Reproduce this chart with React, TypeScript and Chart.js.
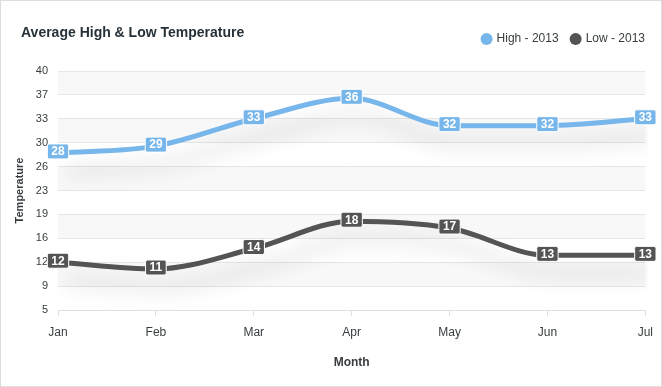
import React, { useEffect, useRef } from "react";
import { Chart, registerables } from "chart.js";

Chart.register(...registerables);

const months = ["Jan", "Feb", "Mar", "Apr", "May", "Jun", "Jul"];
const highTemps = [28, 29, 33, 36, 32, 32, 33];
const lowTemps = [12, 11, 14, 18, 17, 13, 13];
const seriesNames = ["High - 2013", "Low - 2013"];
const seriesColors = ["#77B6EA", "#545454"];
const yMin = 5;
const yMax = 40;
const yStep = 3.5;
const titleText = "Average High & Low Temperature";
const xTitle = "Month";
const yTitle = "Temperature";

const FONT = "'Liberation Sans', Arial, Helvetica, sans-serif";
const LEGEND_SHIFT = 7;

const legendFitPlugin = {
  id: "legendFit",
  beforeInit(chart: any) {
    const lg = chart.legend;
    if (!lg) return;
    const orig = lg.fit.bind(lg);
    lg.fit = function () {
      orig();
      this.height = 52;
    };
  },
  afterLayout(chart: any) {
    const lg = chart.legend;
    if (!lg) return;
    lg.left += LEGEND_SHIFT;
    lg.right += LEGEND_SHIFT;
    lg.top += 1;
    lg.bottom += 1;
  },
};

const bandsPlugin = {
  id: "bands",
  beforeDraw(chart: any) {
    const { ctx, chartArea } = chart;
    const y = chart.scales.y;
    const ticks = y.ticks;
    ctx.save();
    ctx.fillStyle = "rgba(243,243,243,0.6)";
    for (let i = 0; i < ticks.length - 1; i++) {
      if (i % 2 === 1) {
        const top = y.getPixelForValue(ticks[i + 1].value);
        const bottom = y.getPixelForValue(ticks[i].value);
        ctx.fillRect(chartArea.left, top, chartArea.right - chartArea.left, bottom - top);
      }
    }
    ctx.restore();
  },
};

const shadowPlugin = {
  id: "lineShadow",
  beforeDatasetDraw(chart: any) {
    const ctx = chart.ctx;
    ctx.save();
    ctx.shadowColor = "rgba(0,0,0,0.2)";
    ctx.shadowBlur = 20;
    ctx.shadowOffsetX = 7;
    ctx.shadowOffsetY = 18;
  },
  afterDatasetDraw(chart: any) {
    chart.ctx.restore();
  },
};

const labelsPlugin = {
  id: "dataLabels",
  afterDatasetsDraw(chart: any) {
    const ctx = chart.ctx;
    ctx.save();
    ctx.font = `bold 12px ${FONT}`;
    ctx.textAlign = "center";
    ctx.textBaseline = "middle";
    chart.data.datasets.forEach((ds: any, di: number) => {
      const meta = chart.getDatasetMeta(di);
      meta.data.forEach((pt: any, i: number) => {
        const text = String(ds.data[i]);
        const w = ctx.measureText(text).width + 8;
        const h = 15;
        const cx = pt.x;
        const cy = pt.y - 1.5;
        ctx.beginPath();
        ctx.roundRect(cx - w / 2, cy - h / 2, w, h, 2);
        ctx.fillStyle = ds.borderColor;
        ctx.fill();
        ctx.lineWidth = 1;
        ctx.strokeStyle = "#ffffff";
        ctx.stroke();
        ctx.fillStyle = "#ffffff";
        ctx.fillText(text, cx, cy + 0.5);
      });
    });
    ctx.restore();
  },
};

const decorPlugin = {
  id: "decor",
  afterDraw(chart: any) {
    const ctx = chart.ctx;
    ctx.save();
    ctx.font = `bold 14px ${FONT}`;
    ctx.fillStyle = "#263238";
    ctx.textAlign = "left";
    ctx.textBaseline = "middle";
    ctx.fillText(titleText, 21, 33.5);
    ctx.strokeStyle = "#dddddd";
    ctx.lineWidth = 1;
    ctx.strokeRect(0.5, 0.5, chart.width - 1, chart.height - 1);
    ctx.restore();
  },
};

export default function App() {
  const ref = useRef<HTMLCanvasElement | null>(null);

  useEffect(() => {
    if (!ref.current) return;
    const chart = new Chart(ref.current, {
      type: "line",
      data: {
        labels: months,
        datasets: [
          {
            label: seriesNames[0],
            data: highTemps,
            borderColor: seriesColors[0],
            backgroundColor: seriesColors[0],
            borderWidth: 5,
            pointRadius: 0,
            cubicInterpolationMode: "monotone",
            fill: false,
          },
          {
            label: seriesNames[1],
            data: lowTemps,
            borderColor: seriesColors[1],
            backgroundColor: seriesColors[1],
            borderWidth: 5,
            pointRadius: 0,
            cubicInterpolationMode: "monotone",
            fill: false,
          },
        ],
      },
      options: {
        responsive: false,
        animation: false,
        devicePixelRatio: 1,
        events: [],
        layout: { padding: { top: 19, right: 11, bottom: 0, left: 0 } },
        plugins: {
          tooltip: { enabled: false },
          title: { display: false },
          legend: {
            display: true,
            position: "top",
            align: "end",
            labels: {
              usePointStyle: true,
              pointStyle: "circle",
              boxWidth: 8,
              boxHeight: 8.5,
              padding: 13,
              color: "#373d3f",
              font: { size: 12, family: FONT },
              generateLabels(c: any) {
                return c.data.datasets.map((ds: any, i: number) => ({
                  text: ds.label,
                  fillStyle: ds.borderColor,
                  strokeStyle: ds.borderColor,
                  lineWidth: 0,
                  pointStyle: "circle",
                  fontColor: "#373d3f",
                  hidden: false,
                  datasetIndex: i,
                }));
              },
            },
          },
        },
        scales: {
          x: {
            type: "category",
            offset: false,
            afterFit(scale: any) {
              scale.height = 77;
            },
            grid: {
              display: true,
              drawOnChartArea: false,
              drawTicks: true,
              tickLength: 6,
              color: "#e0e0e0",
            },
            border: { display: true, color: "#e0e0e0", width: 1 },
            ticks: {
              color: "#373d3f",
              font: { size: 12, family: FONT },
              padding: 9,
              maxRotation: 0,
              autoSkip: false,
            },
            title: {
              display: true,
              text: xTitle,
              color: "#373d3f",
              font: { size: 12, weight: "bold", family: FONT },
              padding: { top: 0, bottom: 17 },
            },
          },
          y: {
            type: "linear",
            min: yMin,
            max: yMax,
            afterFit(scale: any) {
              scale.width = 58;
            },
            grid: {
              display: true,
              drawTicks: false,
              color: "#e6e6e6",
            },
            border: { display: false },
            ticks: {
              stepSize: yStep,
              color: "#373d3f",
              font: { size: 11, family: FONT },
              padding: 10,
              callback: (v: any) => String(Math.round(Number(v))),
            },
            title: {
              display: true,
              text: yTitle,
              color: "#373d3f",
              font: { size: 11, weight: "bold", family: FONT },
              padding: { top: 13, bottom: 0 },
            },
          },
        },
      },
      plugins: [legendFitPlugin, bandsPlugin, shadowPlugin, labelsPlugin, decorPlugin],
    } as any);
    return () => chart.destroy();
  }, []);

  return (
    <div style={{ position: "absolute", left: 0, top: 0, width: 662, height: 387 }}>
      <canvas ref={ref} width={662} height={387} style={{ display: "block" }} />
    </div>
  );
}
